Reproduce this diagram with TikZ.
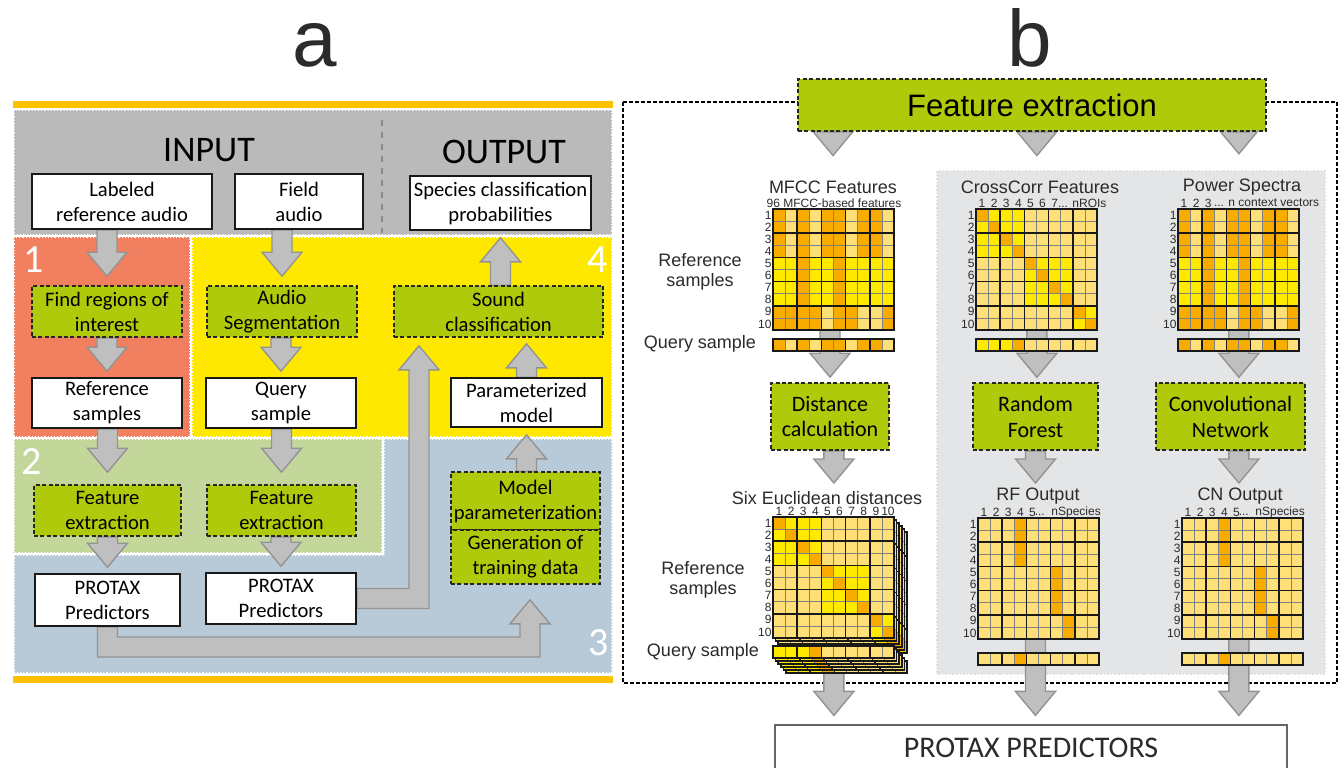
\documentclass[tikz,border=0pt]{standalone}
\usepackage{fontspec}
\setmainfont{Carlito}
\newfontfamily\arialfont{Liberation Sans}
\usetikzlibrary{calc}

\definecolor{barorange}{HTML}{FFC000}
\definecolor{inputgray}{HTML}{BABABA}
\definecolor{stepred}{HTML}{F0805F}
\definecolor{stepyellow}{HTML}{FFE800}
\definecolor{stepgreen}{HTML}{C4D79B}
\definecolor{stepblue}{HTML}{B8CAD8}
\definecolor{procgreen}{HTML}{AFCA0B}
\definecolor{arrowgray}{HTML}{BFBFBF}
\definecolor{arrowedge}{HTML}{939393}
\definecolor{panelgray}{HTML}{E4E5E6}
\definecolor{inkgray}{HTML}{2B2B2B}
\definecolor{hmO}{HTML}{F8AC00}
\definecolor{hmL}{HTML}{FFDF78}
\definecolor{hmY}{HTML}{FFE900}

\pgfdeclarelayer{back}
\pgfdeclarelayer{mid}
\pgfsetlayers{back,mid,main}

% block arrows, vertical; the tip stops #1 short of the target
\newcommand{\fatdown}[3][4pt]{%
  \begin{pgfonlayer}{mid}
  \path[fatarrow] let \p1=(#2), \p2=(#3) in
    (\x2-5pt,\y1) -- (\x2-5pt,\y2+#1+12pt) -- (\x2-10pt,\y2+#1+12pt)
    -- (\x2,\y2+#1) -- (\x2+10pt,\y2+#1+12pt) -- (\x2+5pt,\y2+#1+12pt)
    -- (\x2+5pt,\y1) -- cycle;
  \end{pgfonlayer}}
\newcommand{\fatup}[3][4pt]{%
  \begin{pgfonlayer}{mid}
  \path[fatarrow] let \p1=(#2), \p2=(#3) in
    (\x2-5pt,\y1) -- (\x2-5pt,\y2-#1-12pt) -- (\x2-10pt,\y2-#1-12pt)
    -- (\x2,\y2-#1) -- (\x2+10pt,\y2-#1-12pt) -- (\x2+5pt,\y2-#1-12pt)
    -- (\x2+5pt,\y1) -- cycle;
  \end{pgfonlayer}}

% 10x10 coloured matrix and single query row
\newcommand{\heatmap}[3]{%
  \node[hmframe] (#1) at (#2) {};
  \begin{scope}[shift={(#1.north west)}]
    \foreach \cells [count=\ri] in #3
      \foreach \cell [count=\ci] in \cells
        \fill[fill=hm\cell] ({(\ci-1)*12.1},{(\ri-1)*12.1}) rectangle ++(12.1,12.1);
    \foreach \ci in {1,...,9} {
      \draw[hmgrid] ({\ci*12.1},0) -- ++(0,121);
      \draw[hmgrid] (0,{\ci*12.1}) -- ++(121,0);}
    \foreach \ci in {2,4,6,8} {
      \draw[hmbold] ({\ci*12.1},0) -- ++(0,121);
      \draw[hmbold] (0,{\ci*12.1}) -- ++(121,0);}
    \draw[hmbold] (0,0) rectangle (121,121);
  \end{scope}}
\newcommand{\heatrow}[3]{%
  \node[hmframe, minimum height=6.05pt] (#1) at (#2) {};
  \begin{scope}[shift={(#1.north west)}]
    \foreach \cell [count=\ci] in {#3}
      \fill[fill=hm\cell] ({(\ci-1)*12.1},0) rectangle ++(12.1,12.1);
    \foreach \ci in {1,...,9}
      \draw[hmgrid] ({\ci*12.1},0) -- ++(0,12.1);
    \foreach \ci in {2,4,6,8}
      \draw[hmbold] ({\ci*12.1},0) -- ++(0,12.1);
    \draw[hmbold] (0,0) rectangle (121,12.1);
  \end{scope}}
\newcommand{\rowlabels}[1]{%
  \foreach \ri in {1,...,10}
    \node[hmlabel, anchor=east] at ($(#1.north west)+(-0.5,{(\ri-0.5)*12.1})$) {\ri};}
\newcommand{\collabels}[2]{%
  \foreach \ci in {1,...,#2}
    \node[hmlabel] at ($(#1.north west)+({(\ci-0.5)*12.1},-6)$) {\ci};}

\newcommand{\specrows}{{O,L,O,L,O,O,L,O,O,L},{O,L,O,L,O,O,L,O,O,L},
  {O,L,O,L,O,O,L,O,O,L},{O,L,O,L,O,O,L,O,O,L},
  {Y,Y,O,Y,Y,O,Y,Y,Y,Y},{Y,Y,O,Y,Y,O,Y,Y,Y,Y},
  {Y,Y,O,Y,Y,O,Y,Y,Y,Y},{Y,Y,O,Y,Y,O,Y,Y,Y,Y},
  {O,O,O,O,L,O,O,L,L,O},{O,O,O,O,L,O,O,L,L,O}}
\newcommand{\blockrows}{{O,Y,Y,Y,L,L,L,L,L,L},{Y,O,Y,Y,L,L,L,L,L,L},
  {Y,Y,O,Y,L,L,L,L,L,L},{Y,Y,Y,O,L,L,L,L,L,L},
  {L,L,L,L,O,Y,Y,Y,L,L},{L,L,L,L,Y,O,Y,Y,L,L},
  {L,L,L,L,Y,Y,O,Y,L,L},{L,L,L,L,Y,Y,Y,O,L,L},
  {L,L,L,L,L,L,L,L,O,Y},{L,L,L,L,L,L,L,L,Y,O}}
\newcommand{\outrows}{{L,L,L,O,L,L,L,L,L,L},{L,L,L,O,L,L,L,L,L,L},
  {L,L,L,O,L,L,L,L,L,L},{L,L,L,O,L,L,L,L,L,L},
  {L,L,L,L,L,L,O,L,L,L},{L,L,L,L,L,L,O,L,L,L},
  {L,L,L,L,L,L,O,L,L,L},{L,L,L,L,L,L,O,L,L,L},
  {L,L,L,L,L,L,L,O,L,L},{L,L,L,L,L,L,L,O,L,L}}

\begin{document}
\begin{tikzpicture}[x=0.5pt,y=-0.5pt,
    databox/.style={draw=black!90,fill=white,line width=0.8pt,align=center,
      inner sep=0pt,font=\fontsize{10.3}{12.5}\selectfont},
    procbox/.style={draw=black!85,fill=procgreen,line width=0.8pt,
      dash pattern=on 2pt off 1.2pt,align=center,inner sep=0pt,
      font=\fontsize{10.3}{12.5}\selectfont},
    region/.style={draw=white,densely dotted,line width=0.6pt},
    fatarrow/.style={fill=arrowgray,draw=arrowedge,line width=0.7pt,line join=miter},
    stepno/.style={text=white,font=\fontsize{20}{20}\selectfont},
    heading/.style={text=inkgray,font=\arialfont\fontsize{9}{10.2}\selectfont,align=center},
    hmlabel/.style={text=inkgray,inner sep=0.3pt,font=\arialfont\fontsize{6}{6.5}\selectfont},
    hmframe/.style={anchor=north west,inner sep=0pt,minimum width=60.5pt,minimum height=60.5pt},
    hmgrid/.style={draw=black!50,line width=0.3pt},
    hmbold/.style={draw=black!90,line width=0.8pt}]
  \useasboundingbox (0,0) rectangle (1343,767);
  \clip (0,0) rectangle (1343,767);

  % ---- a: workflow ----
  \node[text=inkgray,font=\arialfont\fontsize{40}{40}\selectfont] (labela) at (315,45) {a};
  \begin{pgfonlayer}{back}
    \fill[white] (0,0) rectangle (1343,767);
    \fill[barorange] (13,101) rectangle (613,108);
    \fill[barorange] (13,676) rectangle (613,683);
    \path[region,fill=inputgray] (14,110) rectangle (612,235);
    \path[region,fill=stepred] (14,237) rectangle (190,437);
    \path[region,fill=stepyellow] (192,237) rectangle (612,437);
    \path[region,fill=stepgreen] (14,439) rectangle (382,553);
    \path[region,fill=stepblue] (384,439) -- (612,439) -- (612,673) -- (14,673)
      -- (14,555) -- (384,555) -- cycle;
    \draw[black!45,dashed,line width=0.6pt] (382,120) -- (382,233);
  \end{pgfonlayer}
  \node[stepno] (step1) at (34,260) {1};
  \node[stepno] (step4) at (598,260) {4};
  \node[stepno] (step2) at (32,462) {2};
  \node[stepno] (step3) at (599,643) {3};
  \node[font=\fontsize{18}{18}\selectfont] (input) at (209,150) {INPUT};
  \node[font=\fontsize{18}{18}\selectfont] (output) at (504,152) {OUTPUT};

  \node[databox,minimum width=90pt,minimum height=27.5pt] (lab) at (122,201.5)
    {Labeled\\reference audio};
  \node[databox,minimum width=64pt,minimum height=27.5pt] (field) at (299,201.5)
    {Field\\audio};
  \node[databox,minimum width=90.5pt,minimum height=27pt] (species) at (500.5,203)
    {Species classification\\probabilities};
  \node[procbox,minimum width=75pt,minimum height=25.5pt] (findroi) at (107,311.5)
    {Find regions of\\interest};
  \node[procbox,minimum width=75pt,minimum height=25.5pt] (audioseg) at (282,311.5)
    {Audio\\Segmentation};
  \node[procbox,minimum width=104.5pt,minimum height=25.5pt] (soundcls) at (498.5,311.5)
    {Sound\\classification};
  \node[databox,minimum width=75pt,minimum height=25pt] (refsamp) at (107,403)
    {Reference\\samples};
  \node[databox,minimum width=75pt,minimum height=25pt] (query) at (281,403)
    {Query\\sample};
  \node[databox,minimum width=75.5pt,minimum height=24.5pt] (parmodel) at (526.5,402.5)
    {Parameterized\\model};
  \node[procbox,minimum width=73.5pt,minimum height=25.5pt] (featL) at (107.5,510.5)
    {Feature\\extraction};
  \node[procbox,minimum width=74.5pt,minimum height=25.5pt] (featR) at (281.5,510.5)
    {Feature\\extraction};
  \node[procbox,minimum width=74.5pt,minimum height=29pt] (modelpar) at (525.5,501)
    {Model\\parameterization};
  \node[procbox,minimum width=74.5pt,minimum height=27pt] (gentrain) at (525.5,557)
    {Generation of\\training data};
  \node[databox,minimum width=72.5pt,minimum height=26pt] (protaxL) at (107.5,600)
    {PROTAX\\Predictors};
  \node[databox,minimum width=75pt,minimum height=25.5pt] (protaxR) at (281,598.5)
    {PROTAX\\Predictors};

  \fatdown[4.5pt]{lab.south}{findroi.north}
  \fatdown[4.5pt]{field.south}{audioseg.north}
  \fatup[3.5pt]{soundcls.north}{species.south}
  \fatdown[3pt]{findroi.south}{refsamp.north}
  \fatdown[3pt]{audioseg.south}{query.north}
  \fatup[3pt]{parmodel.north}{parmodel.north |- soundcls.south}
  \fatdown[6pt]{refsamp.south}{featL.north}
  \fatdown[6pt]{query.south}{featR.north}
  \fatdown[3pt]{featL.south}{protaxL.north}
  \fatdown[3pt]{featR.south}{protaxR.north}
  \fatup[3.5pt]{modelpar.north}{parmodel.south}

  \coordinate (bendA) at (419,600);
  \coordinate (bendB) at (530,647);
  \begin{pgfonlayer}{mid}
    \path[fatarrow] let \p1=(protaxR.east), \p2=(bendA), \p3=(soundcls.south) in
      (\x1,\y1+5pt) -- (\x2-5pt,\y1+5pt) -- (\x2-5pt,\y3-16pt) -- (\x2-10pt,\y3-16pt)
      -- (\x2,\y3-4pt) -- (\x2+10pt,\y3-16pt) -- (\x2+5pt,\y3-16pt)
      -- (\x2+5pt,\y1-5pt) -- (\x1,\y1-5pt) -- cycle;
    \path[fatarrow] let \p1=(protaxL.south), \p2=(bendB), \p3=(gentrain.south) in
      (\x1-5pt,\y1) -- (\x1-5pt,\y2-5pt) -- (\x2+5pt,\y2-5pt) -- (\x2+5pt,\y3-19.5pt)
      -- (\x2+10pt,\y3-19.5pt) -- (\x2,\y3-7.5pt) -- (\x2-10pt,\y3-19.5pt)
      -- (\x2-5pt,\y3-19.5pt) -- (\x2-5pt,\y2+5pt) -- (\x1+5pt,\y2+5pt)
      -- (\x1+5pt,\y1) -- cycle;
  \end{pgfonlayer}

  % ---- b: feature extraction ----
  \node[text=inkgray,font=\arialfont\fontsize{40}{40}\selectfont] (labelb) at (1030,38) {b};
  \begin{pgfonlayer}{back}
    \draw[line width=0.8pt,dash pattern=on 2pt off 1pt] (623,102) rectangle (1337,683);
    \path[fill=panelgray,draw=black!12,densely dotted,line width=0.8pt]
      (937,171) rectangle (1325,674);
  \end{pgfonlayer}
  \node[procbox,minimum width=234pt,minimum height=26pt,
    font=\arialfont\fontsize{15.5}{16}\selectfont] (featbig) at (1032,105)
    {Feature extraction};

  \node[heading] (mfcctitle) at (833,187) {MFCC Features};
  \node[hmlabel] (mfccnote) at (834,203) {96 MFCC-based features};
  \heatmap{mfcc}{773,209}{\specrows}
  \rowlabels{mfcc}
  \heatrow{mfccq}{773,339}{O,L,O,L,O,O,L,O,O,L}
  \node[heading] (refA) at (700,272) {Reference\\samples};
  \node[heading] (queryA) at (700,344) {Query sample};

  \node[heading] (cctitle) at (1040,187) {CrossCorr Features};
  \heatmap{crosscorr}{976,209}{\blockrows}
  \rowlabels{crosscorr}
  \collabels{crosscorr}{7}
  \node[hmlabel,anchor=west] at ($(crosscorr.north west)+(81,-6)$) {... nROIs};
  \heatrow{crosscorrq}{976,339}{Y,Y,Y,O,L,L,L,L,L,L}

  \node[heading] (pstitle) at (1242,187) {Power Spectra};
  \heatmap{power}{1178,209}{\specrows}
  \rowlabels{power}
  \collabels{power}{3}
  \node[hmlabel,anchor=west] at ($(power.north west)+(35,-6)$) {... n context vectors};
  \heatrow{powerq}{1178,339}{O,L,O,L,O,O,L,O,O,L}

  \node[procbox,minimum width=59pt,minimum height=33.5pt,
    font=\fontsize{11}{13}\selectfont] (distance) at (830,416.5) {Distance\\calculation};
  \node[procbox,minimum width=62.5pt,minimum height=33.5pt,
    font=\fontsize{11}{13}\selectfont] (rf) at (1035.5,416.5) {Random\\Forest};
  \node[procbox,minimum width=74.5pt,minimum height=33.5pt,
    font=\fontsize{11}{13}\selectfont] (cn) at (1230.5,416.5) {Convolutional\\Network};

  \node[heading] (eutitle) at (827,498) {Six Euclidean distances};
  \foreach \s in {5,4,3,2,1}
    \heatmap{euclid\s}{773+2.6*\s,517+3*\s}{\blockrows};
  \heatmap{euclid}{773,517}{\blockrows}
  \rowlabels{euclid}
  \collabels{euclid}{10}
  \foreach \s in {5,4,3,2,1}
    \heatrow{euclidq\s}{773+2.6*\s,646+3*\s}{Y,Y,Y,O,L,L,L,L,L,L};
  \heatrow{euclidq}{773,646}{Y,Y,Y,O,L,L,L,L,L,L}
  \node[heading] (refB) at (703,580) {Reference\\samples};
  \node[heading] (queryB) at (703,652) {Query sample};

  \node[heading] (rftitle) at (1038,496) {RF Output};
  \heatmap{rfout}{978,518}{\outrows}
  \rowlabels{rfout}
  \collabels{rfout}{5}
  \node[hmlabel,anchor=east] at ($(rfout.north east)+(2,-6)$) {...\ \ nSpecies};
  \heatrow{rfoutq}{978,653}{L,L,L,O,L,L,L,L,L,L}

  \node[heading] (cntitle) at (1240,496) {CN Output};
  \heatmap{cnout}{1182,518}{\outrows}
  \rowlabels{cnout}
  \collabels{cnout}{5}
  \node[hmlabel,anchor=east] at ($(cnout.north east)+(2,-6)$) {...\ \ nSpecies};
  \heatrow{cnoutq}{1182,653}{L,L,L,O,L,L,L,L,L,L}

  \node[draw=black!60,fill=white,line width=0.6pt,minimum width=256pt,
    minimum height=22.5pt,inner sep=0pt,text=inkgray,font=\fontsize{15}{15}\selectfont]
    (protax) at (1031,747.5) {PROTAX PREDICTORS};

  \fatdown[9pt]{featbig.south}{mfcctitle.north}
  \fatdown[9pt]{featbig.south}{crosscorr.north |- cctitle.north}
  \fatdown[9pt]{featbig.south}{power.north |- pstitle.north}
  \fatdown[2.5pt]{mfcc.north}{distance.north}
  \fatdown[2.5pt]{crosscorr.north}{crosscorr.north |- rf.north}
  \fatdown[2.5pt]{power.north}{power.north |- cn.north}
  \fatdown[17pt]{distance.south}{euclid.north}
  \fatdown[17.5pt]{rf.south}{rf.south |- rfout.north}
  \fatdown[17.5pt]{cn.south}{power.north |- cnout.north}
  \fatdown[4.5pt]{euclid.north}{euclid.north |- protax.north}
  \fatdown[4.5pt]{rfout.north}{rf.south |- protax.north}
  \fatdown[4.5pt]{cnout.north}{power.north |- protax.north}
\end{tikzpicture}
\end{document}
